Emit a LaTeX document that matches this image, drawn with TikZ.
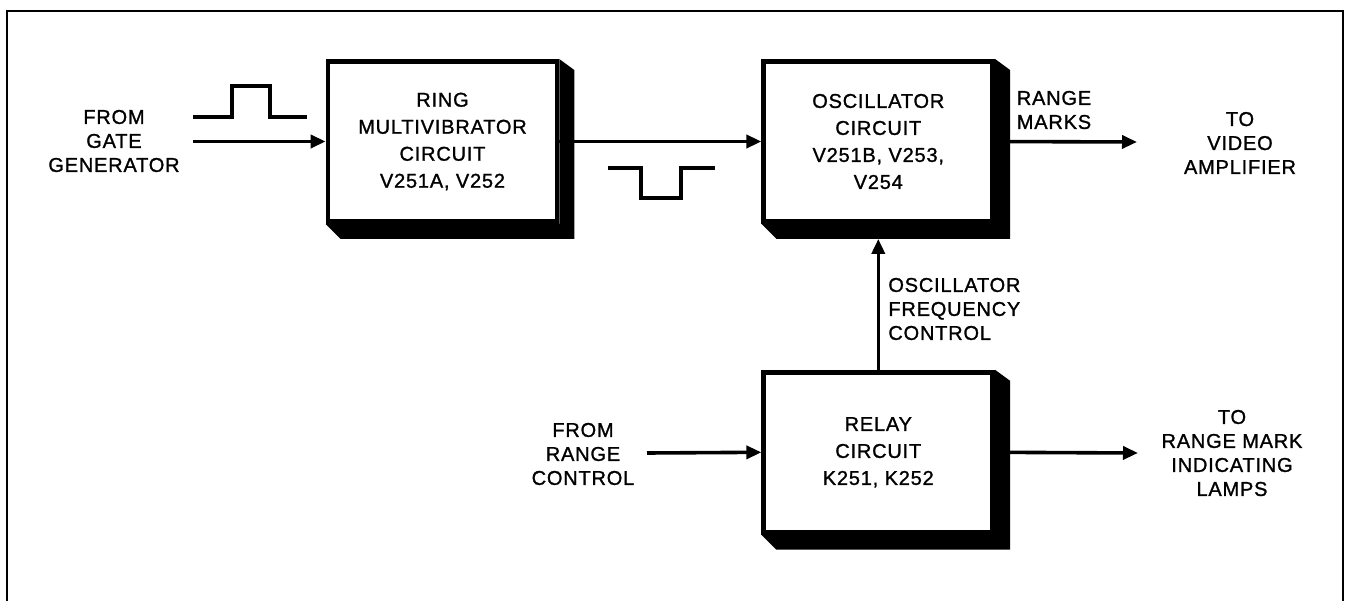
\documentclass[tikz,border=0pt]{standalone}
\usepackage{fontspec}
\setmainfont{Liberation Sans}[LetterSpace=4.0, FakeBold=1.2]
\usepackage{tikz}
\usetikzlibrary{arrows.meta, positioning, calc}

\begin{document}
\begin{tikzpicture}[
    x=0.5pt, y=0.5pt,
    node distance=101pt,
    block/.style={rectangle, draw, line width=2.4pt, minimum width=114.5pt, minimum height=80pt, align=center, font=\fontsize{10}{13.5}\selectfont},
    lbl/.style={inner sep=0pt, align=center, font=\fontsize{10}{12}\selectfont},
    arrow/.style={-{Triangle[length=7.5pt,width=6.5pt]}, line width=1.8pt},
    wave/.style={line width=1.8pt},
    frame/.style={line width=1.3pt}
]
    \useasboundingbox (0,0) rectangle (1351,601);
    \draw[frame] (7,0) -- (7,590) -- (1343,590) -- (1343,0);

    % blocks
    \node[block] (ring) at (442.5,459.5) {RING\\MULTIVIBRATOR\\CIRCUIT\\V251A, V252};
    \node[block, right=101pt of ring] (osc) {OSCILLATOR\\CIRCUIT\\V251B, V253,\\V254};
    \node[block, below=73pt of osc] (relay) {RELAY\\CIRCUIT\\K251, K252};

    % drop shadows
    \foreach \b in {ring, osc, relay}
        \fill (\b.north east) -- ++(7.5pt,-5.5pt) -- ($(\b.south east)+(7.5pt,-7.5pt)$)
            -- ($(\b.south west)+(7.5pt,-7.5pt)$) -- (\b.south west) -- (\b.south east) -- cycle;

    % labels
    \node[lbl] (gate) at (114,460) {FROM\\GATE\\GENERATOR};
    \node[lbl] (marks) at (1054,491) {RANGE\\MARKS};
    \node[lbl] (video) at (1240,458) {TO\\VIDEO\\AMPLIFIER};
    \node[lbl, align=left, anchor=west] (freq) at (888,292) {OSCILLATOR\\FREQUENCY\\CONTROL};
    \node[lbl] (rangectl) at (583,147) {FROM\\RANGE\\CONTROL};
    \node[lbl] (lamps) at (1232,148) {TO\\RANGE MARK\\INDICATING\\LAMPS};

    % free ends
    \coordinate (gateout) at (193,459.5);
    \coordinate (videoin) at (1137,459);
    \coordinate (rangeout) at (647,148);
    \coordinate (lampsin) at (1138,148);
    \coordinate (oscbase) at ($(osc.south)+(0,-7.5pt)$);

    % pulses
    \draw[wave] (193,484) -- (232,484) -- (232,515) -- (270,515) -- (270,484) -- (307,484);
    \draw[wave] (608,433) -- (641,433) -- (641,403) -- (681,403) -- (681,433) -- (715,433);

    \draw[arrow] (gateout) -- (ring.west);
    \draw[arrow] (ring.east) -- (osc.west);
    \draw[arrow] (osc.east) -- (videoin);
    \draw[arrow] (relay.north) -- (oscbase);
    \draw[arrow] (rangeout) -- (relay.west);
    \draw[arrow] (relay.east) -- (lampsin);
\end{tikzpicture}
\end{document}
